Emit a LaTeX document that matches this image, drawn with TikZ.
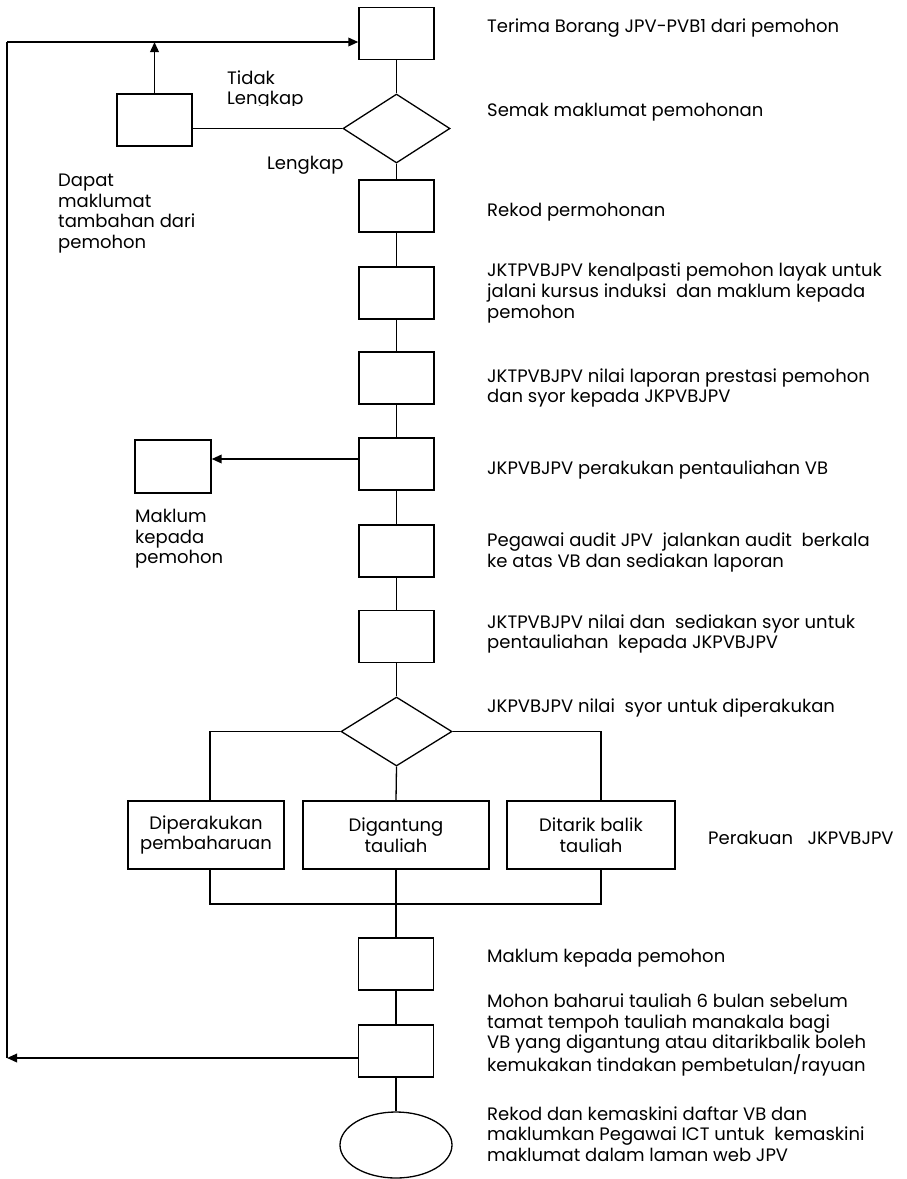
\documentclass[tikz,border=0pt]{standalone}
\usepackage{fontspec}
\setmainfont{Poppins}
\usetikzlibrary{shapes.geometric,arrows.meta}
\tikzset{
  box/.style={draw, line width=1.3pt, minimum width=75pt, minimum height=52pt, inner sep=0pt},
  dia/.style={draw, diamond, line width=1.3pt, inner sep=0pt},
  ln/.style={line width=1.3pt},
  arr/.style={line width=1.8pt, -{Triangle[length=10pt,width=8.5pt]}},
  lbl/.style={anchor=west, align=left, inner sep=0pt, font=\fontsize{18}{20.6}\selectfont},
  blbl/.style={align=center, font=\fontsize{18}{20.6}\selectfont}
}
\begin{document}
\begin{tikzpicture}[x=1pt,y=-1pt]
\useasboundingbox (0,0) rectangle (906,1179);
% main column
\node[box] (b1) at (396.5,33.5) {};
\node[dia, minimum width=107pt, minimum height=69pt] (d1) at (396.5,128.5) {};
\node[box] (b2) at (396.5,206) {};
\node[box] (b3) at (396.5,293) {};
\node[box] (b4) at (396.5,378) {};
\node[box] (b5) at (396.5,464) {};
\node[box] (b6) at (396.5,551) {};
\node[box] (b7) at (396.5,636.5) {};
\node[dia, minimum width=111pt, minimum height=69pt] (d2) at (396.5,731.5) {};
\node[box, minimum width=156pt, minimum height=68pt, blbl] (bA) at (206,835) {Diperakukan\\pembaharuan};
\node[box, minimum width=186pt, minimum height=68pt, blbl] (bB) at (396,835) {Digantung\\tauliah};
\node[box, minimum width=168pt, minimum height=68pt, blbl] (bC) at (591,835) {Ditarik balik\\tauliah};
\node[box] (b8) at (396,964) {};
\node[box] (b9) at (396,1051) {};
\node[draw, ellipse, line width=1.3pt, minimum width=112pt, minimum height=66pt, inner sep=0pt] (e) at (396,1145) {};
% side boxes
\node[box] (L1) at (154.5,120) {};
\node[box, minimum width=76pt, minimum height=53pt] (L2) at (173,466.5) {};
% connectors main
\draw[ln] (b1) -- (d1);
\draw[ln] (d1) -- (b2);
\draw[ln] (b2) -- (b3);
\draw[ln] (b3) -- (b4);
\draw[ln] (b4) -- (b5);
\draw[ln] (b5) -- (b6);
\draw[ln] (b6) -- (b7);
\draw[ln] (b7) -- (d2);
\draw[ln] (d2.west) -| ([xshift=4pt]bA.north);
\draw[ln] (d2.east) -| ([xshift=10pt]bC.north);
\draw[ln] (d2.south) -- (bB.north);
\coordinate (m) at (396,904);
\draw[ln] ([xshift=4pt]bA.south) |- (m) -| ([xshift=10pt]bC.south);
\draw[ln] (bB.south) -- (b8.north);
\draw[ln] (b8) -- (b9);
\draw[ln] (b9) -- (e);
% loop back
\coordinate (tl) at (7,42);
\coordinate (bl) at (7,1058);
\coordinate (j) at (154.5,42);
\draw[arr] ([yshift=-7pt]b9.west) -- (bl);
\draw[line width=1.8pt] (bl) -- (tl);
\draw[arr] (tl) -- ([yshift=-8.5pt]b1.west);
\draw[arr] (L1.north) -- (j);
\draw[ln] (d1.west) -- (d1.west -| L1.east);
\draw[arr] ([yshift=5pt]b5.west) -- ([yshift=5pt]b5.west -| L2.east);
% right-hand texts
\node[lbl] (t1) at (487,28) {Terima Borang JPV-PVB1 dari pemohon};
\node[lbl] (t2) at (487,112) {Semak maklumat pemohonan};
\node[lbl] (t3) at (487,212) {Rekod permohonan};
\node[lbl] (t4) at (487,293) {JKTPVBJPV kenalpasti pemohon layak untuk\\jalani kursus induksi\ \ dan maklum kepada\\pemohon};
\node[lbl] (t5) at (487,388) {JKTPVBJPV nilai laporan prestasi pemohon\\dan syor kepada JKPVBJPV};
\node[lbl] (t6) at (487,470) {JKPVBJPV perakukan pentauliahan VB};
\node[lbl] (t7) at (487,552.5) {Pegawai audit JPV\ \ jalankan audit\ \ berkala\\ke atas VB dan sediakan laporan};
\node[lbl] (t8) at (487,634) {JKTPVBJPV nilai dan\ \ sediakan syor untuk\\pentauliahan\ \ kepada JKPVBJPV};
\node[lbl] (t9) at (487,708) {JKPVBJPV nilai\ \ syor untuk diperakukan};
\node[lbl] (t10) at (708,838) {Perakuan\ \ \ JKPVBJPV};
\node[lbl] (t11) at (487,958) {Maklum kepada pemohon};
\node[lbl] (t12) at (487,1035) {Mohon baharui tauliah 6 bulan sebelum\\tamat tempoh tauliah manakala bagi\\VB yang digantung atau ditarikbalik boleh\\kemukakan tindakan pembetulan/rayuan};
\node[lbl] (t13) at (487,1134) {Rekod dan kemaskini daftar VB dan\\maklumkan Pegawai ICT untuk\ \ kemaskini\\maklumat dalam laman web JPV};
% left texts
\begin{scope}
\clip (200,60) rectangle (345,105);
\node[lbl] (tt) at (227,90) {Tidak\\Lengkap};
\end{scope}
\node[lbl] (tl2) at (267,165) {Lengkap};
\node[lbl] (td) at (58,213.5) {Dapat\\maklumat\\tambahan dari\\pemohon};
\node[lbl] (tm) at (135,539) {Maklum\\kepada\\pemohon};
\end{tikzpicture}
\end{document}
